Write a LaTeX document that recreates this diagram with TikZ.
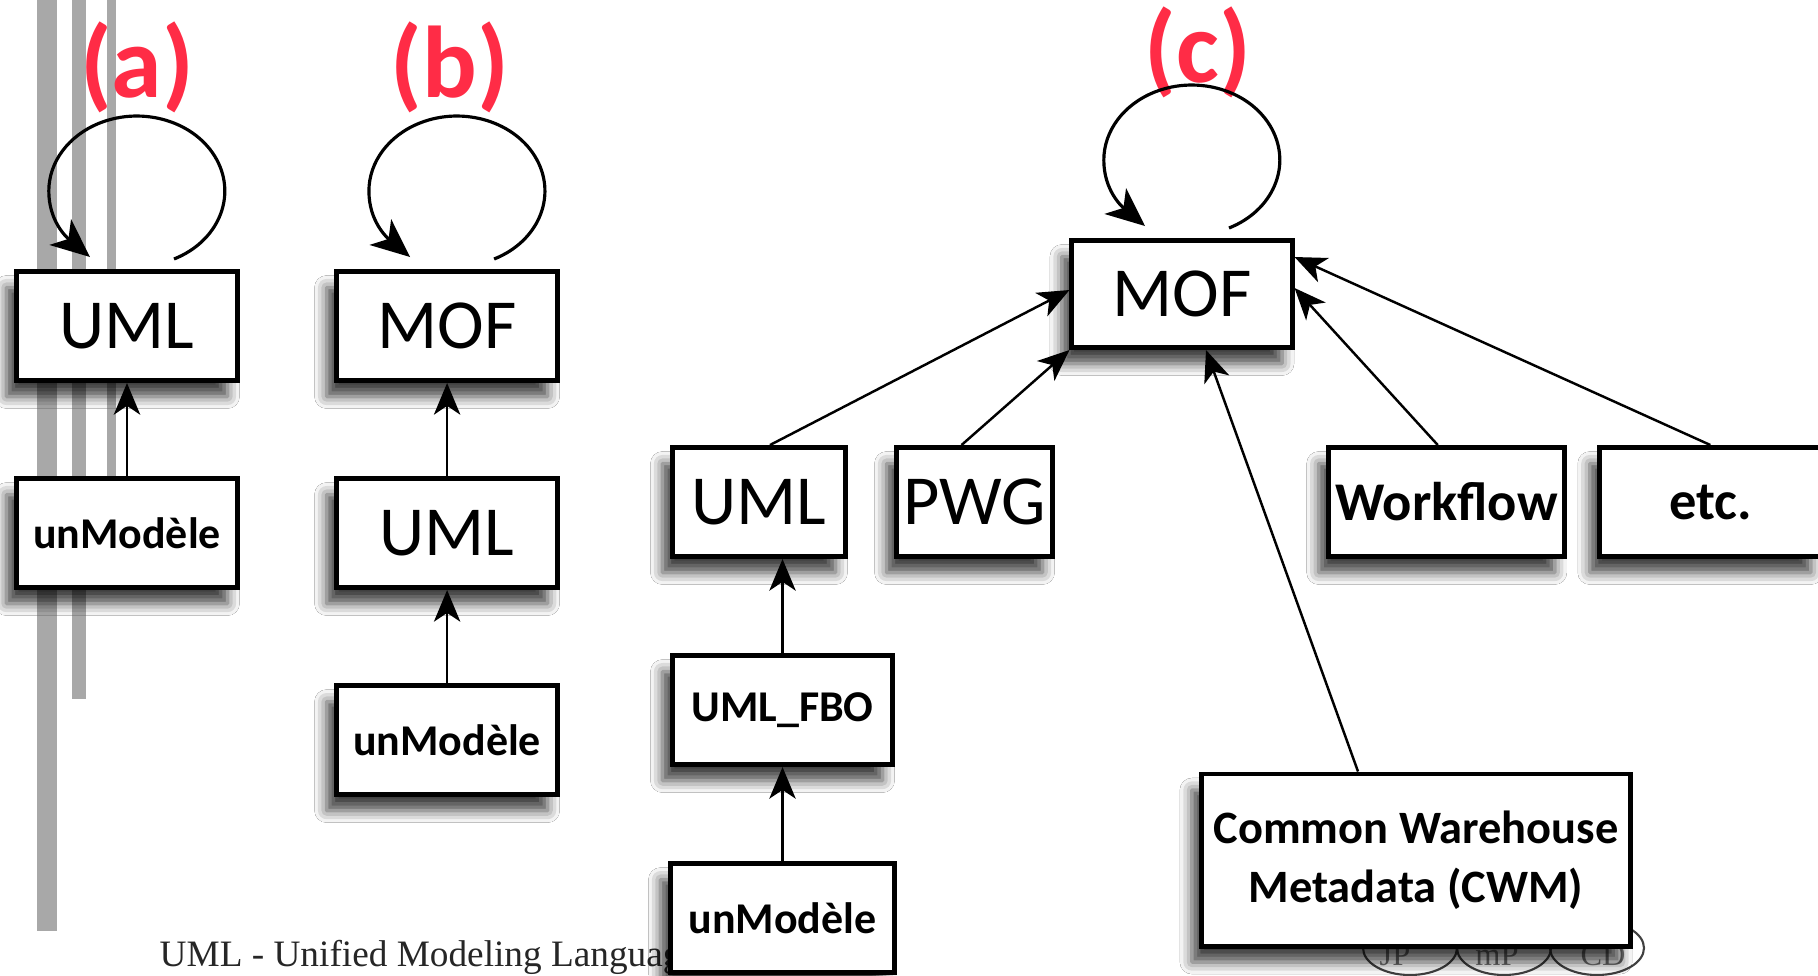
\documentclass[tikz,border=0pt]{standalone}
\usepackage{fontspec}
\setmainfont{Carlito}
\newfontfamily\slidefont{Liberation Serif}
\usepackage{tikz}
\usetikzlibrary{arrows.meta,positioning,shadows.blur}
\definecolor{tagred}{RGB}{255,44,70}
\definecolor{bargray}{RGB}{168,168,168}

\begin{document}
\begin{tikzpicture}[x=0.01cm, y=0.01cm]
\tikzstyle{box}=[draw, shape=rectangle, line width=1.4pt, fill=white, minimum width=2.21cm, minimum height=1.09cm, inner sep=0pt, align=center, blur shadow={shadow xshift=-0.1cm, shadow yshift=-0.16cm, shadow blur radius=0.12cm, shadow opacity=75}]
\tikzstyle{big}=[font=\fontsize{20}{24}\selectfont]
\tikzstyle{small}=[font=\bfseries\fontsize{12.5}{15}\selectfont]
\tikzstyle{mid}=[font=\bfseries\fontsize{15.5}{17}\selectfont]
\tikzstyle{tag}=[text=tagred, font=\bfseries\fontsize{29}{33}\selectfont]
\tikzstyle{link}=[line width=0.7pt, -{Stealth[length=9pt, width=7.5pt, inset=2.5pt]}]
\tikzstyle{selfloop}=[line width=0.9pt, -{Stealth[length=11pt, width=9.5pt, inset=3pt]}]

\path[fill=white, use as bounding box] (0,0) rectangle (1818,-975);

% bars on the left
\fill[bargray] (37,0) rectangle (57,-931);
\fill[bargray] (72,0) rectangle (86,-699);
\fill[bargray] (107,0) rectangle (116,-540);

% footer
\node[anchor=base west, inner sep=0pt, font=\slidefont\fontsize{10.6}{13}\selectfont, text=black!85] (footer) at (159,-966) {UML - Unified Modeling Language};
\foreach \x/\tx/\t [count=\i] in {1410/1395/JP, 1504/1497/mP, 1597/1603/CD} {
  \draw[black!75, line width=0.6pt] (\x,-948) ellipse [x radius=47, y radius=27];
  \node[anchor=base, inner sep=0pt, font=\slidefont\fontsize{9.2}{11}\selectfont, text=black!55] (logo\i) at (\tx,-965) {\t};
}

% (a)
\node[box, big] (umlA) at (127,-326) {UML};
\node[box, small] (modA) [below=0.93cm of umlA] {unModèle};
% (b)
\node[box, big] (mofB) [right=0.94cm of umlA] {MOF};
\node[box, big] (umlB) [below=0.93cm of mofB] {UML};
\node[box, small] (modB) [below=0.93cm of umlB] {unModèle};
% (c)
\node[box, big, minimum width=2.20cm, minimum height=1.07cm] (mofC) at (1182,-294) {MOF};
\node[box, big, minimum width=1.73cm] (umlC) at (759,-502) {UML};
\node[box, big, minimum width=1.56cm] (pwg) [right=0.46cm of umlC] {PWG};
\node[box, mid, minimum width=2.36cm] (workflow) [right=2.71cm of pwg] {Workflow};
\node[box, mid] (etc) [right=0.30cm of workflow] {etc.};
\node[box, small, minimum width=2.20cm] (umlFBO) [below right=0.94cm and 0cm of umlC.south west] {UML\_FBO};
\node[box, small, minimum width=2.24cm] (modC) [below=0.94cm of umlFBO] {unModèle};
\node[box, font=\bfseries\fontsize{13.2}{16.8}\selectfont, minimum width=4.28cm, minimum height=1.72cm] (cwm) at (1416,-860) {Common Warehouse\\Metadata (CWM)};

\node[tag] (tagA) at (137,-67) {(a)};
\node[tag] (tagB) at (450,-67) {(b)};
\node[tag] (tagC) at (1198,-52) {(c)};

% self loops
\draw[selfloop] ([shift={(47,10)}]umlA.north) arc[start angle=-65, end angle=180, x radius=88, y radius=75] to[out=-90, in=140] ([shift={(-37,12)}]umlA.north);
\draw[selfloop] ([shift={(47,10)}]mofB.north) arc[start angle=-65, end angle=180, x radius=88, y radius=75] to[out=-90, in=140] ([shift={(-37,12)}]mofB.north);
\draw[selfloop] ([shift={(47,10)}]mofC.north) arc[start angle=-65, end angle=180, x radius=88, y radius=75] to[out=-90, in=140] ([shift={(-37,12)}]mofC.north);

\draw[link] (modA) -- (umlA);
\draw[link] (umlB) -- (mofB);
\draw[link] (modB) -- (umlB);
\draw[link] (umlFBO.north) -- (umlFBO.north |- umlC.south);
\draw[link] (modC) -- (umlFBO);
\draw[link] ([shift={(11,0)}]umlC.north) -- ([shift={(0,4)}]mofC.west);
\draw[link] ([shift={(-13,0)}]pwg.north) -- (mofC.south west);
\draw[link] ([shift={(-9,0)}]workflow.north) -- ([shift={(0,6)}]mofC.east);
\draw[link] (etc.north) -- ([shift={(0,-19)}]mofC.north east);
\draw[link] ([shift={(-58,0)}]cwm.north) -- ([shift={(24,0)}]mofC.south);

\end{tikzpicture}
\end{document}
